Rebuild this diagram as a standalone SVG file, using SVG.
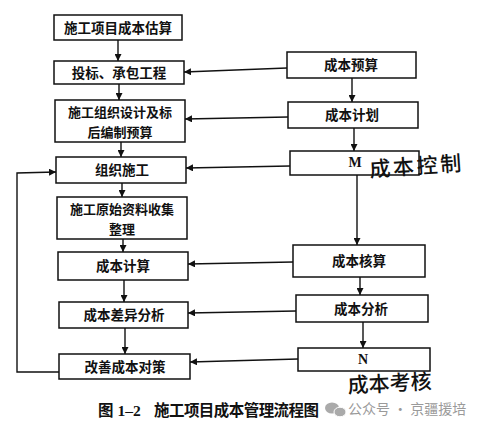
<svg xmlns="http://www.w3.org/2000/svg" width="484" height="430" viewBox="0 0 484 430">
<style>
.box{fill:#fff;stroke:#111;stroke-width:1.5}
.t{font-family:"Noto Sans CJK SC","Noto Sans CJK JP",sans-serif;font-size:13.5px;fill:#111;text-anchor:middle;font-weight:600}
.t2{font-family:"Noto Sans CJK SC","Noto Sans CJK JP",sans-serif;font-size:13px;fill:#111;text-anchor:middle;font-weight:600}
.ts{font-family:"Liberation Serif","Noto Sans CJK SC",serif;font-size:14px;fill:#111;text-anchor:middle;font-weight:bold}
.c{fill:none;stroke:#111;stroke-width:1.4}
.hw{font-family:"Noto Sans CJK SC",sans-serif;font-size:21px;fill:#111;font-weight:500}
.cap{font-family:"Liberation Serif","Noto Sans CJK SC",serif;font-size:15.5px;font-weight:bold;fill:#111}
.wm{font-family:"Noto Sans CJK SC",sans-serif;font-size:14px;fill:#9a9a9a}
</style>
<defs>
<marker id="ah" viewBox="0 0 10 10" refX="10" refY="5" markerWidth="7" markerHeight="7" markerUnits="userSpaceOnUse" orient="auto">
<path d="M0,0 L10,5 L0,10 z" fill="#111"/>
</marker>
</defs>
<rect width="484" height="430" fill="#fff"/>

<g id="connectors">
<line class="c" x1="118" y1="40" x2="118" y2="61" marker-end="url(#ah)"/>
<line class="c" x1="119" y1="84" x2="119" y2="100" marker-end="url(#ah)"/>
<line class="c" x1="121" y1="142" x2="121" y2="157" marker-end="url(#ah)"/>
<line class="c" x1="122" y1="183" x2="122" y2="197" marker-end="url(#ah)"/>
<line class="c" x1="123" y1="239" x2="123" y2="252" marker-end="url(#ah)"/>
<line class="c" x1="124" y1="280" x2="124" y2="302" marker-end="url(#ah)"/>
<line class="c" x1="125" y1="328" x2="125" y2="354" marker-end="url(#ah)"/>
<line class="c" x1="352" y1="78" x2="352" y2="102" marker-end="url(#ah)"/>
<line class="c" x1="354" y1="128" x2="354" y2="151" marker-end="url(#ah)"/>
<line class="c" x1="357" y1="175" x2="357" y2="245" marker-end="url(#ah)"/>
<line class="c" x1="360" y1="277" x2="360" y2="295" marker-end="url(#ah)"/>
<line class="c" x1="363" y1="322" x2="363" y2="348" marker-end="url(#ah)"/>
<line class="c" x1="287" y1="68" x2="184" y2="72" marker-end="url(#ah)"/>
<line class="c" x1="288" y1="117" x2="185" y2="119" marker-end="url(#ah)"/>
<line class="c" x1="290" y1="166" x2="186" y2="168" marker-end="url(#ah)"/>
<line class="c" x1="293" y1="262" x2="188" y2="264" marker-end="url(#ah)"/>
<line class="c" x1="296" y1="311" x2="188" y2="313" marker-end="url(#ah)"/>
<line class="c" x1="298" y1="359" x2="190" y2="362" marker-end="url(#ah)"/>
<polyline class="c" points="59,372 17,372 17,173 56,172" marker-end="url(#ah)"/>
</g>

<g id="n1"><rect class="box" x="54" y="15" width="128" height="25"/><text class="t" x="118" y="32.5">施工项目成本估算</text></g>
<g id="n2"><rect class="box" x="54" y="61" width="130" height="23"/><text class="t" x="119" y="77.5">投标、承包工程</text></g>
<g id="n3"><rect class="box" x="55" y="100" width="130" height="42"/><text class="t2" x="120" y="116.5">施工组织设计及标</text><text class="t2" x="120" y="136.5">后编制预算</text></g>
<g id="n4"><rect class="box" x="56" y="157" width="130" height="26"/><text class="t" x="122" y="175">组织施工</text></g>
<g id="n5"><rect class="box" x="57" y="197" width="130" height="42"/><text class="t2" x="122" y="213.5">施工原始资料收集</text><text class="t2" x="122" y="233.5">整理</text></g>
<g id="n6"><rect class="box" x="58" y="252" width="130" height="28"/><text class="t" x="123" y="271">成本计算</text></g>
<g id="n7"><rect class="box" x="59" y="302" width="129" height="26"/><text class="t" x="124" y="320">成本差异分析</text></g>
<g id="n8"><rect class="box" x="59" y="354" width="131" height="25"/><text class="t" x="125" y="371.5">改善成本对策</text></g>

<g id="r1"><rect class="box" x="287" y="52" width="129" height="26"/><text class="t" x="351" y="70">成本预算</text></g>
<g id="r2"><rect class="box" x="288" y="102" width="130" height="26"/><text class="t" x="352" y="120">成本计划</text></g>
<g id="r3"><rect class="box" x="290" y="151" width="129" height="24"/><text class="ts" x="355" y="167">M</text></g>
<g id="r4"><rect class="box" x="293" y="245" width="132" height="32"/><text class="t" x="359" y="266">成本核算</text></g>
<g id="r5"><rect class="box" x="296" y="295" width="132" height="27"/><text class="t" x="361" y="313.5">成本分析</text></g>
<g id="r6"><rect class="box" x="298" y="348" width="132" height="23"/><text class="ts" x="363" y="364">N</text></g>

<text class="hw" x="370" y="177" transform="rotate(-4 370 177)" textLength="92">成本控制</text>
<text class="hw" x="348" y="393" transform="rotate(-3 348 393)" textLength="84">成本考核</text>

<text class="cap" x="98" y="416">图 1–2</text>
<text class="cap" x="154" y="416" textLength="165">施工项目成本管理流程图</text>
<g id="wmicon" fill="#aaa">
<ellipse cx="332" cy="408" rx="7" ry="5.5"/>
<ellipse cx="340" cy="412" rx="6" ry="4.8" stroke="#fff" stroke-width="1"/>
</g>
<text class="wm" x="348" y="414">公众号 · 京疆援培</text>
</svg>
